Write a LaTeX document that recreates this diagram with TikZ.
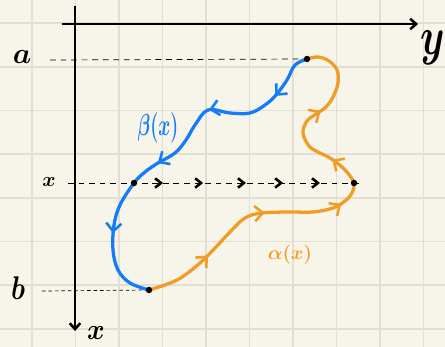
\documentclass[tikz,border=0pt]{standalone}
\usepackage{graphicx}
\usetikzlibrary{arrows.meta,decorations.markings}
\definecolor{paper}{RGB}{247,245,233}
\definecolor{gridgray}{RGB}{226,223,210}
\definecolor{curveblue}{RGB}{22,124,245}
\definecolor{curveorange}{RGB}{242,156,40}
\begin{document}
\begin{tikzpicture}[x=0.03cm,y=-0.03cm,
  axis/.style={line width=2.4pt,-{Straight Barb[length=5pt,width=9pt,line width=2.2pt]}},
  guide/.style={black,line width=0.6pt,dash pattern=on 5pt off 4pt},
  dot/.style={circle,fill=black,inner sep=0pt,minimum size=5.5pt},
  curve/.style={line width=2.8pt,line cap=round,line join=round},
  hand/.style={font=\boldmath},
  bluemarks/.style={postaction={decorate},decoration={markings,
    mark=at position 0.14 with {\arrow{Straight Barb[length=7pt,width=13pt,line width=2.2pt]}},
    mark=at position 0.34 with {\arrow{Straight Barb[length=7pt,width=13pt,line width=2.2pt]}},
    mark=at position 0.55 with {\arrow{Straight Barb[length=7pt,width=13pt,line width=2.2pt]}},
    mark=at position 0.79 with {\arrow{Straight Barb[length=7pt,width=13pt,line width=2.2pt]}}}},
  orangemarks/.style={postaction={decorate},decoration={markings,
    mark=at position 0.16 with {\arrow{Straight Barb[length=7pt,width=13pt,line width=2.2pt]}},
    mark=at position 0.33 with {\arrow{Straight Barb[length=7pt,width=13pt,line width=2.2pt]}},
    mark=at position 0.51 with {\arrow{Straight Barb[length=7pt,width=13pt,line width=2.2pt]}},
    mark=at position 0.645 with {\arrow{Straight Barb[length=7pt,width=13pt,line width=2.2pt]}},
    mark=at position 0.81 with {\arrow{Straight Barb[length=7pt,width=13pt,line width=2.2pt]}}}},
  flowmarks/.style={decorate,decoration={markings,
    mark=at position 0.322 with {\arrow{Straight Barb[length=5pt,width=8pt,line width=2.2pt]}},
    mark=at position 0.458 with {\arrow{Straight Barb[length=5pt,width=8pt,line width=2.2pt]}},
    mark=at position 0.603 with {\arrow{Straight Barb[length=5pt,width=8pt,line width=2.2pt]}},
    mark=at position 0.729 with {\arrow{Straight Barb[length=5pt,width=8pt,line width=2.2pt]}},
    mark=at position 0.854 with {\arrow{Straight Barb[length=5pt,width=8pt,line width=2.2pt]}}}}]
\fill[paper] (0,0) rectangle (445,347);
\useasboundingbox (0,0) rectangle (445,347);
\foreach \gx in {32,75.5,119,162.5,206,249.5,293,336.5,380,423.5}
  \draw[gridgray,line width=1.5pt] (\gx,0) -- (\gx,347);
\foreach \gy in {23,66.7,110.4,154.1,197.8,241.5,285.2,328.9}
  \draw[gridgray,line width=1.5pt] (0,\gy) -- (445,\gy);

\coordinate (ytail) at (62,24);
\coordinate (yhead) at (418,24);
\coordinate (xtail) at (75,6);
\coordinate (xhead) at (75,331);
\draw[axis] (ytail) -- (yhead);
\draw[axis] (xtail) -- (xhead);
\node[hand] (ly) at (433,48) {\scalebox{1.6}[2.2]{\huge$y$}};
\node[hand] (lX) at (96,333) {\scalebox{1.1}[1.2]{\huge$x$}};

\node[hand] (la) at (22,57) {\scalebox{1.2}{\huge$a$}};
\node[hand] (lb) at (18,288) {\scalebox{1.1}[1.35]{\huge$b$}};
\node[hand] (lx) at (49,182) {\LARGE$x$};

\coordinate (astart) at (50,60);
\coordinate (bstart) at (42,291);
\coordinate (xstart) at (68,183);
\coordinate (xend) at (363,183);

\draw[guide] (astart) -- (307,59);
\draw[guide,dash pattern=on 3pt off 2.5pt] (bstart) -- (149,290);
\draw[guide] (xstart) -- (xend);
\path[flowmarks] (xstart) -- (xend);

\draw[curve,curveblue,bluemarks] plot[smooth,tension=0.6] coordinates {
  (307,59) (295,65) (287,80) (276,95) (265,105) (250,113) (230,113)
  (208,110) (195,125) (186,140) (175,153) (158,163) (145,172) (134,183)
  (120,205) (114,225) (113,250) (118,270) (130,283) (149,290)};
\draw[curve,curveorange,orangemarks] plot[smooth,tension=0.6] coordinates {
  (149,290) (177,280) (200,263) (215,248) (230,232) (245,218) (262,213)
  (290,212) (313,212) (333,208) (345,201) (352,193) (354,183) (350,176)
  (342,167) (330,158) (318,152) (309,146) (303,133) (307,121) (316,114)
  (326,107) (333,97) (338,83) (337,70) (329,61) (318,57) (307,59)};

\node[dot] (A) at (307,59) {};
\node[dot] (B) at (149,290) {};
\node[dot] (XL) at (134,183) {};
\node[dot] (XR) at (354,183) {};

\node[hand,curveblue] (lbeta) at (158,128) {\scalebox{0.9}[1.5]{\LARGE$\beta(x)$}};
\node[hand,curveorange] (lalpha) at (290,255) {\scalebox{0.95}{\LARGE$\alpha(x)$}};
\end{tikzpicture}
\end{document}
